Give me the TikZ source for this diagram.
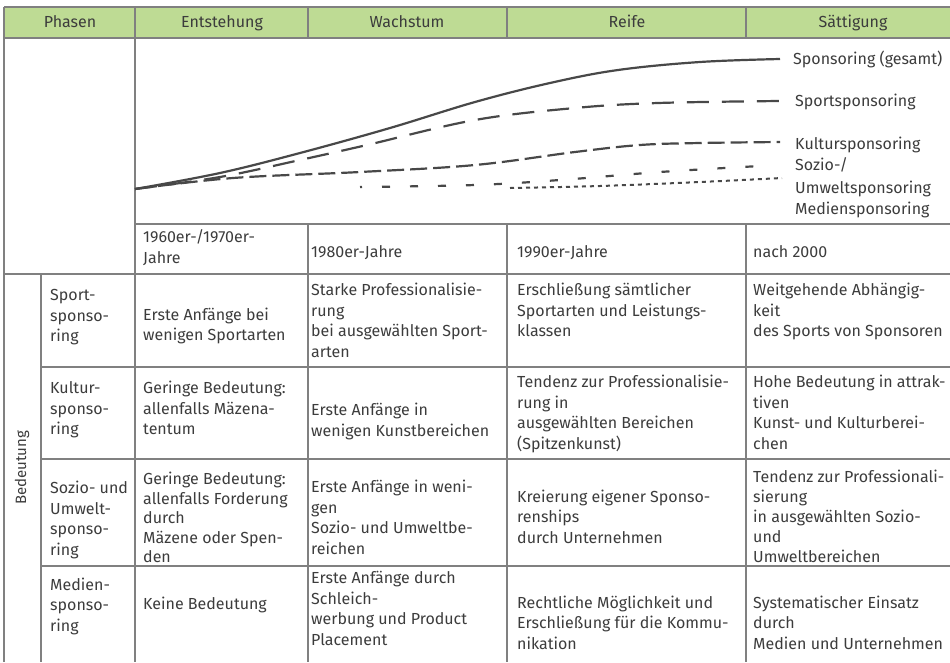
\documentclass[tikz,border=0pt]{standalone}
\usepackage{fontspec}
\setmainfont{Fira Sans}
\definecolor{hdr}{RGB}{190,219,148}
\definecolor{gridc}{RGB}{128,128,128}
\definecolor{txt}{RGB}{60,60,60}
\definecolor{crv}{RGB}{72,72,72}
\newcommand\cellfont{\fontsize{16}{20.5}\selectfont}
\begin{document}
\begin{tikzpicture}[x=1pt,y=-1pt,
  gridline/.style={draw=gridc,line width=1.2pt},
  hd/.style={anchor=base,inner sep=0pt,text=txt,font=\cellfont},
  cell/.style={anchor=base west,align=left,inner sep=0pt,text=txt,font=\cellfont},
  lgd/.style={anchor=base west,align=left,inner sep=0pt,text=txt,font=\cellfont},
  curve/.style={draw=crv,line width=2.2pt},
  ]
\useasboundingbox (0,0) rectangle (950,662);
% header
\fill[hdr] (4,7) rectangle (950,38);
% grid
\draw[gridline] (4,7) -- (950,7);
\draw[gridline] (4,38) -- (950,38);
\draw[gridline] (135,224) -- (950,224);
\draw[gridline] (4,274) -- (950,274);
\draw[gridline] (41,367) -- (950,367);
\draw[gridline] (41,459) -- (950,459);
\draw[gridline] (41,566) -- (950,566);
\draw[gridline] (4,7) -- (4,662);
\draw[gridline] (135,7) -- (135,662);
\draw[gridline] (41,274) -- (41,662);
\foreach \xx in {308,507,746}{
  \draw[gridline] (\xx,7) -- (\xx,38);
  \draw[gridline] (\xx,224) -- (\xx,662);
}
% header texts
\node[hd] (hPh) at (70,27.5) {Phasen};
\node[hd] (hEn) at (222,27.5) {Entstehung};
\node[hd] (hWa) at (407,27.5) {Wachstum};
\node[hd] (hRe) at (627,27.5) {Reife};
\node[hd] (hSa) at (853,27.5) {Sättigung};
% curves
\draw[curve] plot[smooth,tension=0.6] coordinates {(135,189) (220,173) (300,153) (390,128) (475,102) (550,83) (618,70) (700,62) (780,59)};
\draw[curve,dash pattern=on 22pt off 13pt] plot[smooth,tension=0.6] coordinates {(135,189) (220,177) (300,160) (367,145) (475,120) (575,108) (658,103) (780,101)};
\draw[curve,dash pattern=on 17pt off 6pt] plot[smooth,tension=0.6] coordinates {(135,189) (233,178) (360,172) (475,165) (575,152) (640,145) (700,143) (780,142)};
\draw[curve,dash pattern=on 8pt off 20pt,dash phase=6pt] plot[smooth,tension=0.6] coordinates {(360,187) (475,185) (560,180) (660,172) (760,166)};
\draw[curve,line width=2pt,dash pattern=on 4pt off 4pt] plot[smooth,tension=0.6] coordinates {(510,188) (600,186) (700,182) (782,178)};
% legend
\node[lgd] (lg1) at (793,64.5) {Sponsoring (gesamt)};
\node[lgd] (lg2) at (795,106.5) {Sportsponsoring};
\node[lgd] (lg3) at (795,149.5) {Kultursponsoring};
\node[lgd] (lg4) at (795,193.5) {Sozio-/\\[2.5pt]Umweltsponsoring};
\node[lgd] (lg6) at (795,214.5) {Mediensponsoring};
% years
\node[cell] (y1) at (143,263) {1960er-/1970er-\\Jahre};
\node[cell] (y2) at (311,257.5) {1980er-Jahre};
\node[cell] (y3) at (517,257.5) {1990er-Jahre};
\node[cell] (y4) at (753,257.5) {nach 2000};
% Bedeutung
\node[inner sep=0pt,text=txt,font=\fontsize{15}{18}\selectfont,rotate=90] (bed) at (22,468) {Bedeutung};
% Sport row
\node[cell] (c21) at (50,341.5) {Sport-\\sponso-\\ring};
\node[cell] (c22) at (143,340.5) {Erste Anfänge bei\\wenigen Sportarten};
\node[cell] (c23) at (311,357) {Starke Professionalisie-\\rung\\bei ausgewählten Sport-\\arten};
\node[cell] (c24) at (517,336.5) {Erschließung sämtlicher\\Sportarten und Leistungs-\\klassen};
\node[cell] (c25) at (753,336.5) {Weitgehende Abhängig-\\keit\\des Sports von Sponsoren};
% Kultur row
\node[cell] (c31) at (50,434.5) {Kultur-\\sponso-\\ring};
\node[cell] (c32) at (143,434.5) {Geringe Bedeutung:\\allenfalls Mäzena-\\tentum};
\node[cell] (c33) at (311,436) {Erste Anfänge in\\wenigen Kunstbereichen};
\node[cell] (c34) at (517,449) {Tendenz zur Professionalisie-\\rung in\\ausgewählten Bereichen\\(Spitzenkunst)};
\node[cell] (c35) at (753,449) {Hohe Bedeutung in attrak-\\tiven\\Kunst- und Kulturberei-\\chen};
% Sozio row
\node[cell] (c41) at (50,555) {Sozio- und\\Umwelt-\\sponso-\\ring};
\node[cell,font=\fontsize{16}{19.5}\selectfont] (c42) at (143,562.5) {Geringe Bedeutung:\\allenfalls Forderung\\durch\\Mäzene oder Spen-\\den};
\node[cell] (c43) at (311,554) {Erste Anfänge in weni-\\gen\\Sozio- und Umweltbe-\\reichen};
\node[cell] (c44) at (517,543) {Kreierung eigener Sponso-\\renships\\durch Unternehmen};
\node[cell,font=\fontsize{16}{20}\selectfont] (c45) at (753,562) {Tendenz zur Professionali-\\sierung\\in ausgewählten Sozio-\\und\\Umweltbereichen};
% Medien row
\node[cell] (c51) at (50,631) {Medien-\\sponso-\\ring};
\node[cell] (c52) at (143,609.5) {Keine Bedeutung};
\node[cell] (c53) at (311,645) {Erste Anfänge durch\\Schleich-\\werbung und Product\\Placement};
\node[cell] (c54) at (517,649) {Rechtliche Möglichkeit und\\Erschließung für die Kommu-\\nikation};
\node[cell] (c55) at (753,649) {Systematischer Einsatz\\durch\\Medien und Unternehmen};
\end{tikzpicture}
\end{document}
